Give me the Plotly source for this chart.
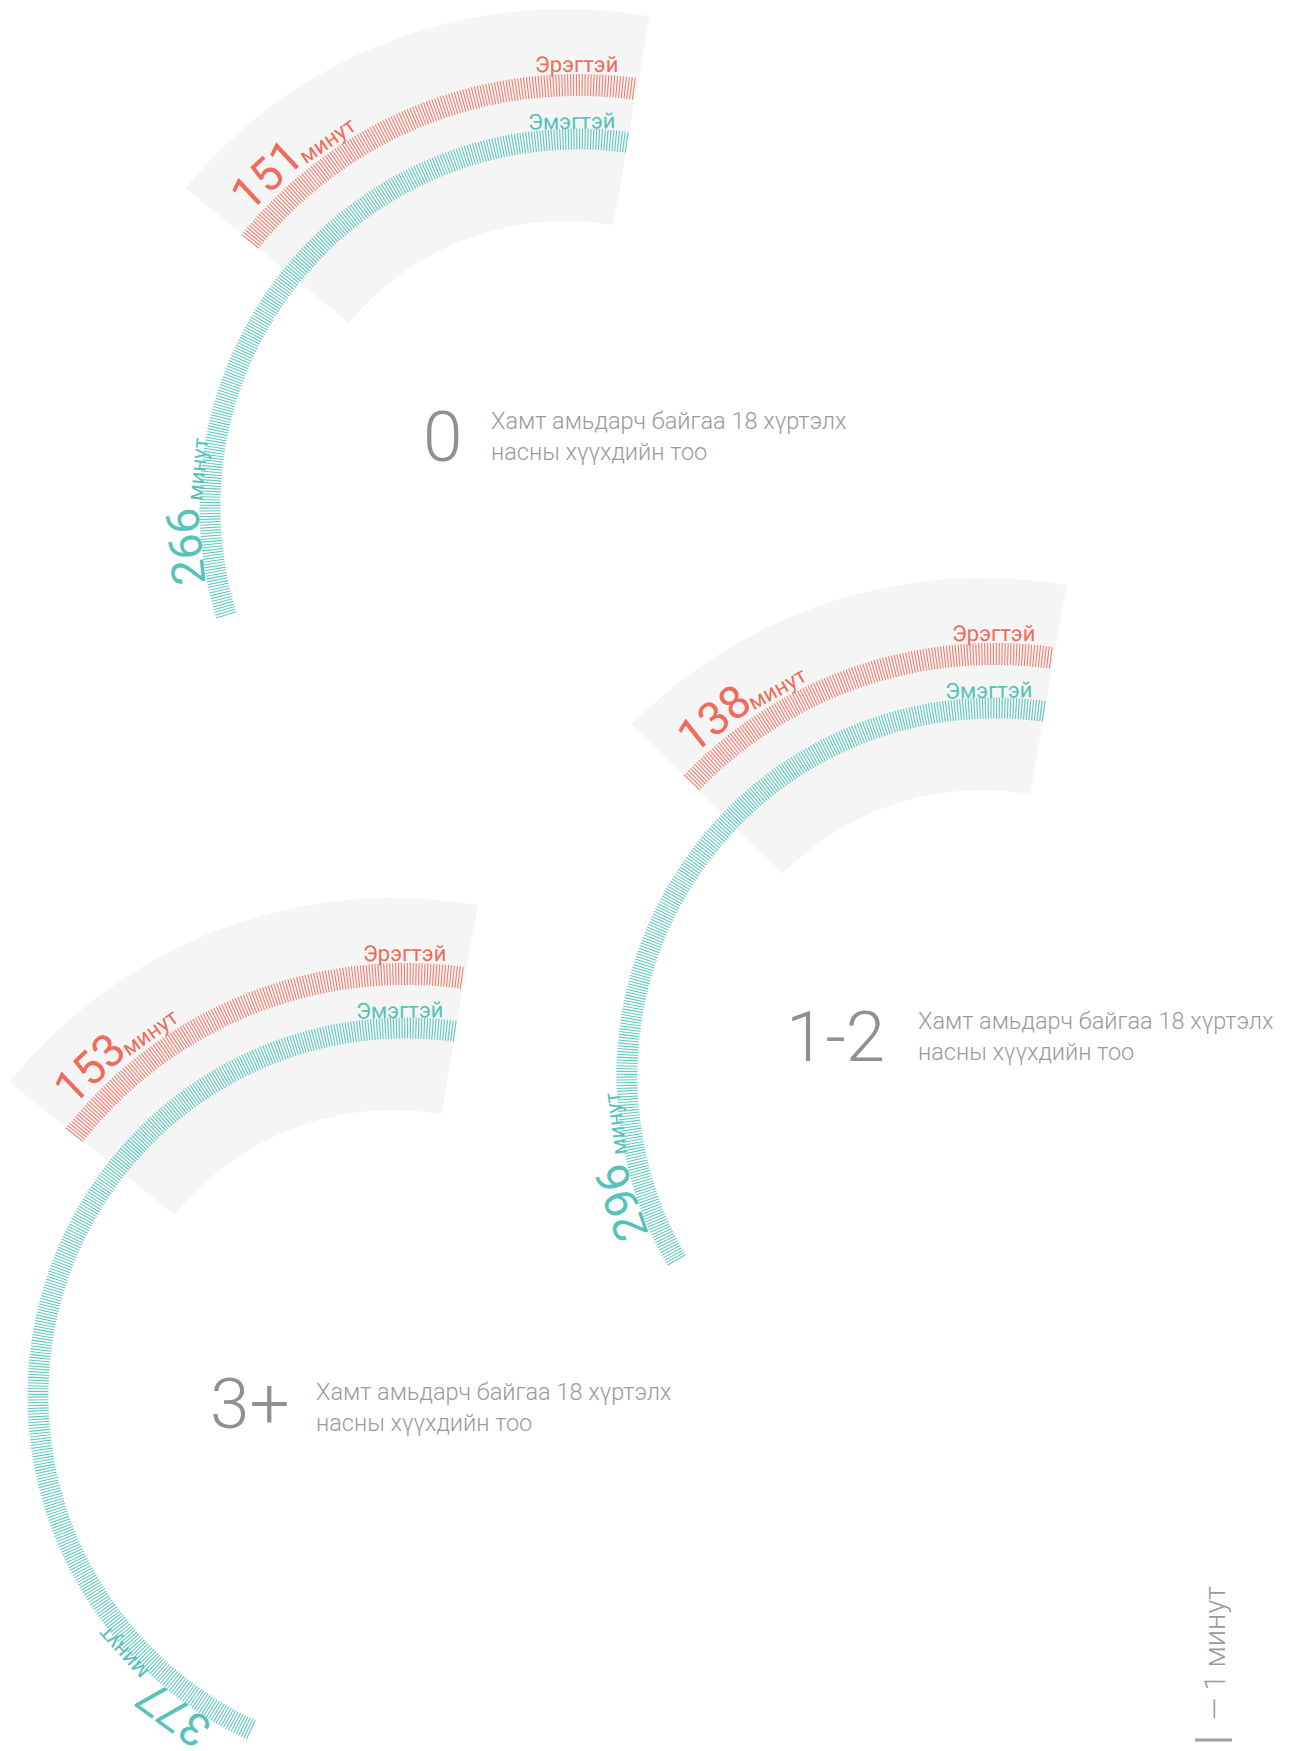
import numpy as np
import plotly.graph_objects as go

# ---------------- data ----------------
groups = ["0", "1-2", "3+"]
male_minutes = [151, 138, 153]      # Эрэгтэй
female_minutes = [266, 296, 377]    # Эмэгтэй
series_names = ["Эрэгтэй", "Эмэгтэй"]
unit_label = "минут"
caption_lines = ["Хамт амьдарч байгаа 18 хүртэлх", "насны хүүхдийн тоо"]
legend_label = "— 1 минут"

# ---------------- layout / style (pixel space) ----------------
W, H = 1290, 1751
centers = [(578, 507), (995, 1076), (406, 1396)]
group_label_pos = [(442, 436), (835, 1036), (250, 1403)]
caption_pos = [(489, 436), (916, 1036), (314, 1407)]

THETA0 = 82.4  # degrees, start of every ring
RINGS = {
    "male": dict(r0=411, r1=433, step=0.3905, tick="#F47E70", text="#F06B5B",
                 num_r=455, num_off=7.8, unit_r=444, unit_off=8.8, name_r=443, name_th=90.2),
    "female": dict(r0=357.5, r1=378.5, step=0.4326, tick="#62C8C0", text="#56C2B9",
                   num_r=394, num_off=11.3, unit_r=382, unit_off=11.5, name_r=386, name_th=91.0),
}
WEDGE = dict(dx=-13, dy=-6, r_in=280, r_out=492, th_right=80.1, color="#F5F5F5")
GREY_BIG = "#8F8F94"
GREY_TXT = "#9A9A9E"
FONT = "Roboto"


def pt(c, r, th):
    t = np.deg2rad(th)
    return c[0] + r * np.cos(t), c[1] - r * np.sin(t)


fig = go.Figure()
annotations = []

for gi, g in enumerate(groups):
    c = centers[gi]
    vals = {"male": male_minutes[gi], "female": female_minutes[gi]}
    end_angles = {k: THETA0 + (vals[k] - 1) * RINGS[k]["step"] for k in vals}

    # grey wedge behind male ring
    wc = (c[0] + WEDGE["dx"], c[1] + WEDGE["dy"])
    th_l = end_angles["male"] - 0.5
    ths = np.linspace(WEDGE["th_right"], th_l, 120)
    ox, oy = pt(wc, WEDGE["r_out"], ths)
    ix, iy = pt(wc, WEDGE["r_in"], ths[::-1])
    fig.add_trace(go.Scatter(x=np.r_[ox, ix, ox[:1]], y=np.r_[oy, iy, oy[:1]],
                             fill="toself", fillcolor=WEDGE["color"], mode="lines",
                             line=dict(width=0, color=WEDGE["color"]),
                             hoverinfo="skip", showlegend=False))

    for k, name in zip(["male", "female"], series_names):
        rc = RINGS[k]
        n = vals[k]
        th = THETA0 + np.arange(n) * rc["step"]
        x0, y0 = pt(c, rc["r0"], th)
        x1, y1 = pt(c, rc["r1"], th)
        xs = np.column_stack([x0, x1, np.full(n, np.nan)]).ravel()
        ys = np.column_stack([y0, y1, np.full(n, np.nan)]).ravel()
        fig.add_trace(go.Scatter(x=xs, y=ys, mode="lines",
                                 line=dict(width=1.1, color=rc["tick"]),
                                 hoverinfo="skip", showlegend=False, connectgaps=False))

        # value label
        th_num = end_angles[k] - rc["num_off"]
        nx, ny = pt(c, rc["num_r"], th_num)
        annotations.append(dict(x=nx, y=ny, text=str(n), showarrow=False,
                                textangle=90 - th_num, xanchor="center", yanchor="middle",
                                font=dict(family=FONT, size=46, color=rc["text"])))
        th_u = th_num - rc["unit_off"]
        ux, uy = pt(c, rc["unit_r"], th_u)
        annotations.append(dict(x=ux, y=uy, text=unit_label, showarrow=False,
                                textangle=90 - th_u, xanchor="center", yanchor="middle",
                                font=dict(family=FONT, size=22, color=rc["text"])))
        # series name
        sx, sy = pt(c, rc["name_r"], rc["name_th"])
        annotations.append(dict(x=sx, y=sy, text=name, showarrow=False,
                                textangle=90 - rc["name_th"], xanchor="center", yanchor="middle",
                                font=dict(family=FONT, size=22, color=rc["text"])))

    # group label + caption
    gx, gy = group_label_pos[gi]
    annotations.append(dict(x=gx, y=gy, text=g, showarrow=False, xanchor="center",
                            yanchor="middle",
                            font=dict(family=FONT, size=71, color=GREY_BIG, weight=300)))
    cx_, cy_ = caption_pos[gi]
    annotations.append(dict(x=cx_, y=cy_, text="<br>".join(caption_lines), showarrow=False,
                            xanchor="left", yanchor="middle", align="left",
                            font=dict(family=FONT, size=23.5, color=GREY_TXT, weight=300)))

# scale legend
annotations.append(dict(x=1215, y=1653, text=legend_label, showarrow=False, textangle=-90,
                        xanchor="center", yanchor="middle",
                        font=dict(family=FONT, size=29, color=GREY_TXT, weight=300)))
shapes = [dict(type="line", x0=1195, x1=1232, y0=1740, y1=1740, xref="x", yref="y",
               line=dict(color="#A0A0A4", width=3))]

fig.update_layout(
    width=W, height=H, autosize=False,
    margin=dict(l=0, r=0, t=0, b=0),
    paper_bgcolor="white", plot_bgcolor="white",
    xaxis=dict(range=[0, W], visible=False, fixedrange=True),
    yaxis=dict(range=[H, 0], visible=False, fixedrange=True),
    annotations=annotations, shapes=shapes, showlegend=False,
)

fig.write_html("out.html", config={"displayModeBar": False},
               post_script="document.body.style.margin='0';document.body.style.overflow='hidden';")
